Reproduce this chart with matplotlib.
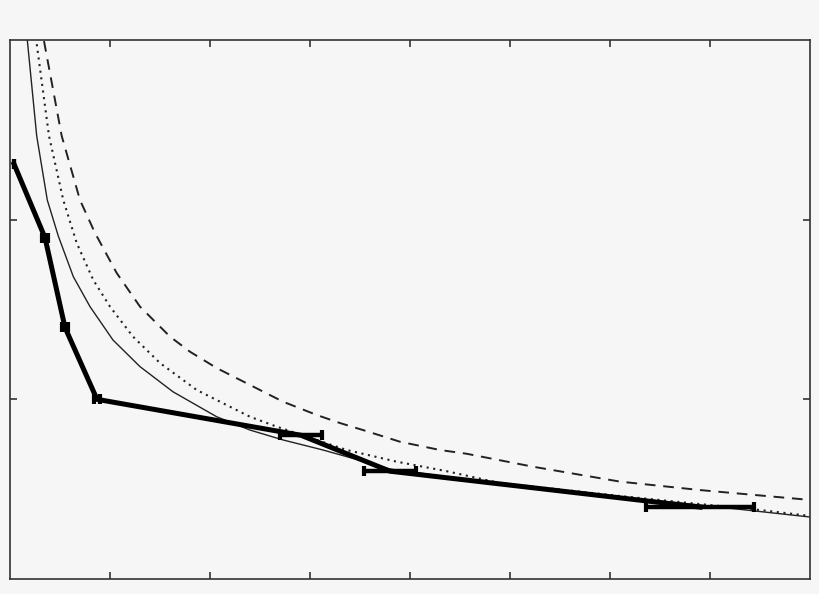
import numpy as np
import matplotlib
matplotlib.use("Agg")
import matplotlib.pyplot as plt

# measured points with horizontal error bars (thick line)
meas_x = [0.04, 0.35, 0.55, 0.87, 2.91, 3.80, 6.90]
meas_y = [2.31, 1.90, 1.40, 1.00, 0.80, 0.60, 0.40]
meas_xerr = [0.0, 0.03, 0.03, 0.03, 0.21, 0.26, 0.545]

# thin solid curve
solid_x = [0.173, 0.267, 0.373, 0.483, 0.633, 0.80, 1.03, 1.30, 1.63, 2.067,
           2.40, 2.73, 3.13, 3.367, 3.80, 4.90, 6.10, 6.90, 8.0]
solid_y = [3.00, 2.466, 2.109, 1.909, 1.683, 1.516, 1.330, 1.182, 1.042, 0.903,
           0.829, 0.774, 0.718, 0.681, 0.612, 0.529, 0.456, 0.412, 0.345]

# dotted curve
dot_x = [0.25, 0.39, 0.533, 0.667, 0.833, 1.0, 1.23, 1.50, 1.867, 2.067, 2.40,
         2.667, 3.367, 3.867, 4.367, 4.9, 6.1, 6.9, 7.5, 8.0]
dot_y = [3.05, 2.466, 2.109, 1.870, 1.664, 1.516, 1.349, 1.202, 1.052, 0.996, 0.903,
         0.848, 0.718, 0.653, 0.600, 0.534, 0.462, 0.417, 0.384, 0.351]

# dashed curve
dash_x = [0.34, 0.517, 0.70, 0.85, 1.067, 1.30, 1.60, 1.80, 2.067, 2.40, 2.73,
          3.067, 3.30, 3.53, 3.90, 4.30, 4.567, 5.23, 6.10, 6.90, 8.0]
dash_y = [2.994, 2.466, 2.109, 1.926, 1.703, 1.516, 1.349, 1.265, 1.174, 1.080, 0.987,
          0.913, 0.868, 0.829, 0.764, 0.718, 0.697, 0.625, 0.542, 0.495, 0.44]

bg = "#f6f6f6"
fig = plt.figure(figsize=(8.2, 5.94), dpi=100, facecolor=bg)
ax = fig.add_axes([10/820, 1 - 579/594, 800/820, 539/594], facecolor=bg)

ax.plot(dash_x, dash_y, color="#222222", lw=1.4, dashes=(5.5, 4.0))
ax.plot(dot_x, dot_y, color="#222222", lw=1.5, dashes=(1.0, 2.2))
ax.plot(solid_x, solid_y, color="#222222", lw=1.0)
ax.errorbar(meas_x, meas_y, xerr=meas_xerr, color="black", lw=3.6,
            elinewidth=3.2, capsize=3.5, capthick=3)

ax.set_xlim(0, 8)
ax.set_ylim(0, 3)
ax.set_xticks(range(1, 8))
ax.set_yticks([1, 2])
ax.tick_params(direction="in", length=5, width=1.2, color="#333333",
               top=True, right=True, labelbottom=False, labelleft=False)
for s in ax.spines.values():
    s.set_color("#333333")
    s.set_linewidth(1.2)

fig.savefig("out.png", dpi=100, facecolor=bg)
